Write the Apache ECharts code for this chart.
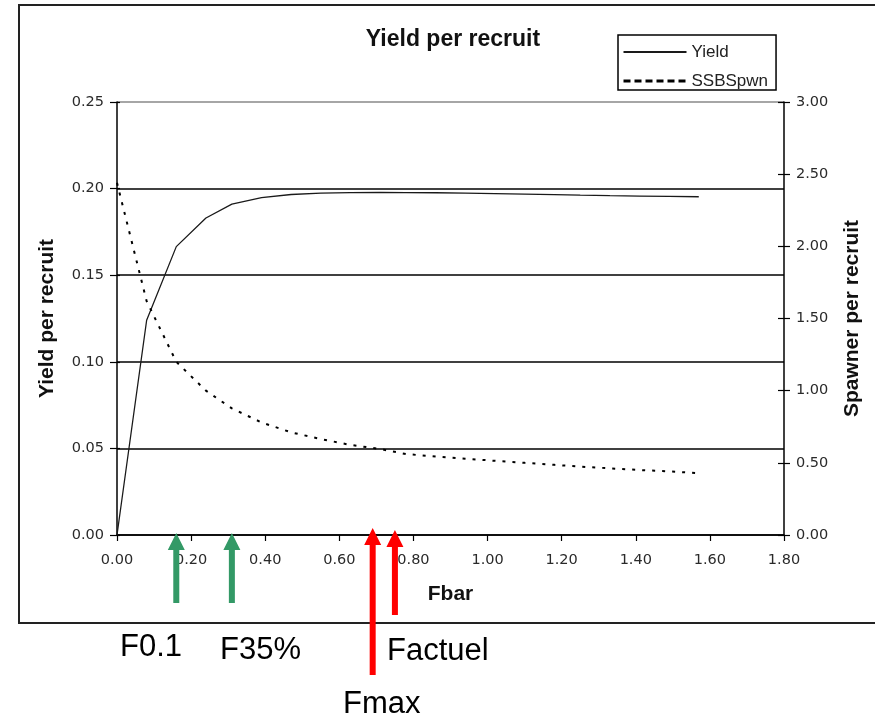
<!DOCTYPE html>
<html>
<head>
<meta charset="utf-8">
<script src="https://cdn.jsdelivr.net/npm/echarts@6/dist/echarts.min.js"></script>
<style>
  html, body { margin: 0; padding: 0; background: #fff; }
  #chart { width: 875px; height: 720px; }
</style>
</head>
<body>
<div id="chart"></div>
<script>
// ---- data ----
const fbar = [0.00, 0.08, 0.16, 0.24, 0.31, 0.39, 0.47, 0.55, 0.63, 0.71, 0.78,
              0.86, 0.94, 1.02, 1.10, 1.18, 1.25, 1.33, 1.41, 1.49, 1.57];
const yieldVals = [0.000, 0.124, 0.1665, 0.183, 0.191, 0.1948, 0.1966, 0.1974, 0.1977, 0.1978, 0.1977,
                   0.1976, 0.1974, 0.1971, 0.1968, 0.1965, 0.1962, 0.1959, 0.1957, 0.1955, 0.1953];
const ssbVals = [2.44, 1.62, 1.20, 1.00, 0.877, 0.78, 0.711, 0.665, 0.624, 0.596, 0.561,
                 0.543, 0.529, 0.514, 0.500, 0.486, 0.474, 0.462, 0.450, 0.441, 0.428];
const seriesNames = ['Yield', 'SSBSpwn'];
const refNames = ['F0.1', 'F35%', 'Fmax', 'Factuel'];
const refF = [0.16, 0.31, 0.69, 0.75];

const TICK_FONT = '"DejaVu Sans", sans-serif';
const SANS = '"Liberation Sans", Arial, sans-serif';

const chart = echarts.init(document.getElementById('chart'));

const leftY = {
  type: 'value', position: 'left', min: 0, max: 0.25, interval: 0.05,
  name: 'Yield per recruit', nameLocation: 'middle', nameRotate: 90, nameGap: 59,
  nameTextStyle: { fontFamily: SANS, fontWeight: 'bold', fontSize: 21, color: '#111' },
  axisLine: { show: true, lineStyle: { color: '#000', width: 1.5 } },
  axisTick: { show: true, length: 7, lineStyle: { color: '#000', width: 1.2 } },
  axisLabel: { formatter: v => v.toFixed(2), fontFamily: TICK_FONT, fontSize: 14.5, color: '#2a2a2a', margin: 13 },
  splitLine: { show: true, lineStyle: { color: ['#000', '#000', '#000', '#000', '#000', '#888'], width: 1.5 } }
};
const rightY = {
  type: 'value', position: 'right', min: 0, max: 3, interval: 0.5,
  name: 'Spawner per recruit', nameLocation: 'middle', nameRotate: 90, nameGap: 58,
  nameTextStyle: { fontFamily: SANS, fontWeight: 'bold', fontSize: 21, color: '#111' },
  axisLine: { show: true, lineStyle: { color: '#000', width: 1.5 } },
  axisTick: { show: true, length: 6, lineStyle: { color: '#000', width: 1.2 } },
  axisLabel: { formatter: v => v.toFixed(2), fontFamily: TICK_FONT, fontSize: 14.5, color: '#2a2a2a', margin: 12 },
  splitLine: { show: false }
};
const leftInner = {
  type: 'value', position: 'left', min: 0, max: 0.25, interval: 0.05,
  axisLine: { show: false }, axisLabel: { show: false }, splitLine: { show: false },
  axisTick: { show: true, inside: true, length: 3, lineStyle: { color: '#000', width: 1.2 } }
};
const rightInner = {
  type: 'value', position: 'right', min: 0, max: 3, interval: 0.5,
  axisLine: { show: false }, axisLabel: { show: false }, splitLine: { show: false },
  axisTick: { show: true, inside: true, length: 6, lineStyle: { color: '#000', width: 1.2 } }
};

chart.setOption({
  animation: false,
  backgroundColor: '#fff',
  title: {
    text: 'Yield per recruit', left: 448, top: 23, textAlign: 'center',
    textStyle: { fontFamily: SANS, fontWeight: 'bold', fontSize: 23, color: '#111' }
  },
  legend: {
    orient: 'vertical', left: 618, top: 35,
    padding: [8, 8, 0, 4], itemGap: 11, itemWidth: 63, itemHeight: 14,
    borderColor: '#000', borderWidth: 1.5, backgroundColor: '#fff',
    itemStyle: { opacity: 0, color: 'transparent', borderWidth: 0 },
    textStyle: { fontFamily: SANS, fontSize: 17, color: '#222', lineHeight: 18 },
    data: [
      { name: seriesNames[0] },
      { name: seriesNames[1], lineStyle: { type: [7, 4], width: 3 } }
    ]
  },
  grid: { left: 117, right: 91, top: 102, bottom: 185, containLabel: false },
  xAxis: {
    type: 'value', min: 0, max: 1.8, interval: 0.2,
    name: 'Fbar', nameLocation: 'middle', nameGap: 49,
    nameTextStyle: { fontFamily: SANS, fontWeight: 'bold', fontSize: 21, color: '#111' },
    axisLine: { show: true, onZero: false, lineStyle: { color: '#000', width: 1.5 } },
    axisTick: { show: true, length: 6, lineStyle: { color: '#000', width: 1.2 } },
    axisLabel: { formatter: v => v.toFixed(2), fontFamily: TICK_FONT, fontSize: 14.5, color: '#2a2a2a', margin: 18 },
    splitLine: { show: false }
  },
  yAxis: [leftY, rightY, leftInner, rightInner],
  series: [
    {
      name: seriesNames[0], type: 'line', yAxisIndex: 0,
      data: fbar.map((f, i) => [f, yieldVals[i]]),
      symbol: 'none', showSymbol: false,
      lineStyle: { color: '#1a1a1a', width: 1.3 },
      itemStyle: { color: '#1a1a1a' }, z: 3
    },
    {
      name: seriesNames[1], type: 'line', yAxisIndex: 1,
      data: fbar.map((f, i) => [f, ssbVals[i]]),
      symbol: 'none', showSymbol: false,
      lineStyle: { color: '#000', width: 2, type: [3, 7] },
      itemStyle: { color: '#000' }, z: 3
    }
  ]
});

// ---- annotations: arrows placed at F values through the x scale ----
const arrowColors = ['#339966', '#339966', '#ff0000', '#ff0000'];
const arrowTip = [533, 533, 528, 530];
const arrowBottom = [603, 603, 675, 615];
const labelPos = [[120, 647.5], [220, 650], [343, 704], [387, 651.5]];

const graphics = [{
  type: 'rect', shape: { x: 19, y: 5, width: 900, height: 618 },
  style: { fill: 'none', stroke: '#222', lineWidth: 2 }, silent: true, z: 0
}];
refF.forEach((f, i) => {
  const x = chart.convertToPixel({ xAxisIndex: 0 }, f);
  const t = arrowTip[i], b = arrowBottom[i];
  const hw = 8.5, hh = 17, sw = 3;
  graphics.push({
    type: 'polygon', z: 10,
    shape: { points: [[x, t], [x + hw, t + hh], [x + sw, t + hh], [x + sw, b], [x - sw, b], [x - sw, t + hh], [x - hw, t + hh]] },
    style: { fill: arrowColors[i] }
  });
  graphics.push({
    type: 'text', z: 10, x: labelPos[i][0], y: labelPos[i][1],
    style: { text: refNames[i], font: '31px "Liberation Sans", Arial, sans-serif', fill: '#000', textAlign: 'left', textVerticalAlign: 'middle' }
  });
});
chart.setOption({ graphic: graphics });
</script>
</body>
</html>
